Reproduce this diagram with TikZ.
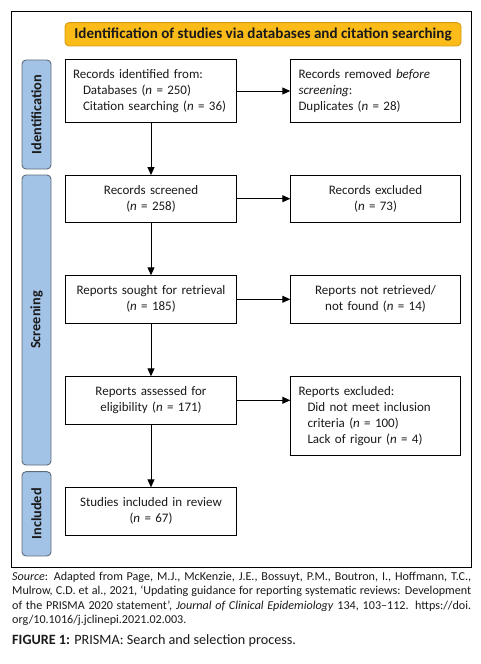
\documentclass[tikz,border=0pt]{standalone}
\usepackage{fontspec}
\setmainfont{Carlito}
\usetikzlibrary{arrows.meta}
\definecolor{banner}{HTML}{FBBB19}
\definecolor{bannerdraw}{HTML}{D49B12}
\definecolor{tab}{HTML}{A3C3E6}
\definecolor{tabdraw}{HTML}{5D6B7A}
\definecolor{ink}{HTML}{1A1A1A}
\tikzset{
  flowbox/.style={draw=black, line width=0.9pt, minimum width=171.4pt, inner sep=0pt, outer sep=0pt, font=\fontsize{13}{16}\selectfont, text=ink},
  leftbox/.style={flowbox, align=left, text width=156pt},
  midbox/.style={flowbox, align=center, text width=166pt},
  sidetab/.style={draw=tabdraw, fill=tab, line width=0.9pt, rounded corners=4pt, minimum width=29pt, inner sep=0pt},
  tablabel/.style={rotate=90, font=\bfseries\fontsize{14.3}{16}\selectfont, text=ink},
  flowarrow/.style={line width=0.9pt, -{Triangle[length=8pt,width=7pt]}},
}
\begin{document}
\begin{tikzpicture}[x=1pt,y=-1pt]
\useasboundingbox (0,0) rectangle (480,664);
\fill[white] (0,0) rectangle (480,664);
\node[draw=black, line width=0.9pt, minimum width=460pt, minimum height=556pt, inner sep=0pt] (frame) at (241.7,289) {};
\node[draw=bannerdraw, fill=banner, line width=0.9pt, rounded corners=4pt, minimum width=396pt, minimum height=23.3pt, inner sep=0pt, font=\bfseries\fontsize{15.1}{16}\selectfont, text=ink] (title) at (263,34.3) {Identification of studies via databases and citation searching};
% side tabs
\node[sidetab, minimum height=109pt] (tabid) at (36.5,114.5) {};
\node[tablabel] (tabidt) at (tabid.center) {Identification};
\node[sidetab, minimum height=290pt] (tabscr) at (36.5,320) {};
\node[tablabel] (tabscrt) at (tabscr.center) {Screening};
\node[sidetab, minimum height=84.3pt] (tabinc) at (36.5,513.8) {};
\node[tablabel] (tabinct) at (tabinc.center) {Included};
% left column
\node[leftbox, minimum height=62.6pt] (b1) at (151,91) {Records identified from:\\\hspace*{10pt}Databases (\textit{n} = 250)\\\hspace*{10pt}Citation searching (\textit{n} = 36)};
\node[midbox, minimum height=47.3pt] (b2) at (151,198.7) {Records screened\\(\textit{n} = 258)};
\node[midbox, minimum height=48pt] (b3) at (151,299.3) {Reports sought for retrieval\\(\textit{n} = 185)};
\node[midbox, minimum height=48pt] (b4) at (151,400.3) {Reports assessed for\\eligibility (\textit{n} = 171)};
\node[midbox, minimum height=47.7pt] (b5) at (151,511.2) {Studies included in review\\(\textit{n} = 67)};
% right column
\node[leftbox, minimum width=170.4pt, text width=154pt, minimum height=62.6pt] (r1) at (375.5,91) {Records removed \textit{before}\\\textit{screening}:\\Duplicates (\textit{n} = 28)};
\node[midbox, minimum width=170.4pt, minimum height=47.3pt] (r2) at (375.5,198.7) {Records excluded\\(\textit{n} = 73)};
\node[midbox, minimum width=170.4pt, minimum height=48pt] (r3) at (375.5,299.3) {Reports not retrieved/\\not found (\textit{n} = 14)};
\node[leftbox, minimum width=170.4pt, text width=154pt, minimum height=79pt] (r4) at (375.5,415.8) {Reports excluded:\\\hspace*{9pt}Did not meet inclusion\\\hspace*{9pt}criteria (\textit{n} = 100)\\\hspace*{9pt}Lack of rigour (\textit{n} = 4)};
% arrows
\draw[flowarrow] (b1) -- (b2);
\draw[flowarrow] (b2) -- (b3);
\draw[flowarrow] (b3) -- (b4);
\draw[flowarrow] (b4) -- (b5);
\draw[flowarrow] (b1.east) -- (r1.west);
\draw[flowarrow] (b2.east) -- (r2.west);
\draw[flowarrow] (b3.east) -- (r3.west);
\draw[flowarrow] (b4.east) -- (b4.east -| r4.west);
% source and caption
\node[anchor=north west, inner sep=0pt, text width=459pt, align=justify, font=\fontsize{12.1}{14.2}\selectfont, text=ink] (source) at (12,572) {\textit{Source}: Adapted from Page, M.J., McKenzie, J.E., Bossuyt, P.M., Boutron, I., Hoffmann, T.C.,\linebreak Mulrow, C.D. et al., 2021, ‘Updating guidance for reporting systematic reviews: Development\linebreak of the PRISMA 2020 statement’, \textit{Journal of Clinical Epidemiology} 134, 103–112. https://doi.\linebreak org/10.1016/j.jclinepi.2021.02.003.};
\node[anchor=west, inner sep=0pt, font=\fontsize{14.2}{16}\selectfont, text=ink] (caption) at (12,640.7) {\textbf{FIGURE 1:} PRISMA: Search and selection process.};
\end{tikzpicture}
\end{document}
